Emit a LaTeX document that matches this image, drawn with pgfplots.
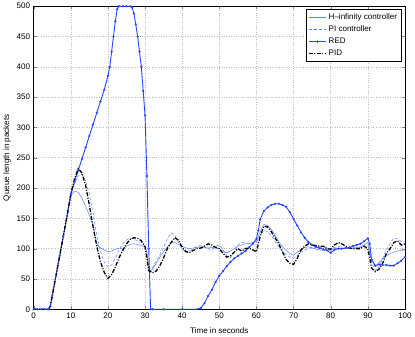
\documentclass[border=0pt]{standalone}
\usepackage{fontspec}
\setmainfont{Liberation Sans}
\usepackage{pgfplots}
\pgfplotsset{compat=1.18}
\definecolor{hblue}{RGB}{95,125,255}
\definecolor{rblue}{RGB}{40,70,255}
\begin{document}
\begin{tikzpicture}
\begin{axis}[
  scale only axis, width=370pt, height=302pt,
  xmin=0, xmax=100, ymin=0, ymax=500,
  xtick={0,10,...,100}, ytick={0,50,...,500},
  tick align=inside, major tick length=3pt,
  xtick pos=both, ytick pos=both,
  grid=major, grid style={gray!50, dotted, line width=0.5pt},
  axis line style={line width=0.5pt},
  tick label style={font=\fontsize{8}{9}\selectfont},
  label style={font=\fontsize{8}{9}\selectfont},
  /pgf/number format/assume math mode=true,
  xlabel={Time in seconds}, ylabel={Queue length in packets},
  xlabel style={yshift=-2pt}, ylabel style={yshift=-1pt},
  legend style={at={(0.99,0.99)}, anchor=north east, font=\fontsize{8}{9}\selectfont,
    draw=black, line width=0.5pt, inner sep=2pt, row sep=1pt},
  legend cell align=left,
]
\addplot[hblue, line width=0.5pt] coordinates {
(0,0) (4,0) (4.5,5) (5,22) (6,55) (7,88) (8,121) (9,154) (10,185) (10.5,192) (11,195) (12,193) (13,183) (14,170) (15,155) (16,138) (17,108) (18,101) (19,98) (20,95) (21,96) (22,99) (23,101) (24,100) (25,104) (26,107) (27,108) (28,107) (29,105) (30,103) (30.5,95) (31,62) (32,66) (33,76) (34,86) (35,95) (36,103) (37,110) (38,110) (39,107) (40,104) (41,101) (42,100) (43,101) (44,102) (45,103) (46,102) (47,101) (48,102) (49,101) (50,100) (51,96) (52,93) (53,96) (54,100) (55,104) (56,106) (57,108) (58,108) (59,110) (60,112) (61,128) (62,140) (63,138) (64,132) (65,122) (66,112) (67,103) (68,97) (69,92) (70,89) (71,94) (72,98) (73,102) (74,103) (75,101) (76,99) (77,98) (78,97) (79,98) (80,97) (81,100) (82,101) (83,100) (84,100) (85,100) (86,101) (87,102) (88,103) (89,106) (90,110) (90.5,100) (91,83) (92,70) (93,77) (94,83) (95,88) (96,92) (97,94) (98,96) (99,97) (100,98)
};
\addlegendentry{H--infinity controller}
\addplot[hblue, line width=0.5pt, dash pattern=on 3pt off 2pt] coordinates {
(0,0) (4,0) (4.5,5) (5,22) (6,55) (7,88) (8,121) (9,154) (10,188) (11,208) (12,220) (12.5,223) (13,222) (14,212) (15,190) (16,158) (17,122) (18,95) (19,78) (20,70) (21,73) (22,84) (23,98) (24,108) (25,114) (26,118) (27,116) (28,112) (29,110) (30,104) (30.5,90) (31,60) (32,68) (33,80) (34,90) (35,102) (36,116) (37,126) (38,122) (39,110) (40,100) (41,93) (42,95) (43,100) (44,104) (45,106) (46,103) (47,100) (48,98) (49,104) (50,106) (51,98) (52,88) (53,85) (54,95) (55,106) (56,110) (57,110) (58,108) (59,110) (60,110) (61,122) (62,130) (63,128) (64,122) (65,112) (66,103) (67,96) (68,90) (69,86) (70,84) (71,88) (72,94) (73,98) (74,100) (75,102) (76,101) (77,102) (78,103) (79,101) (80,99) (81,102) (82,104) (83,102) (84,100) (85,101) (86,100) (87,101) (88,102) (89,104) (90,105) (90.5,95) (91,78) (92,64) (93,70) (94,84) (95,98) (96,108) (97,118) (98,116) (99,112) (100,112)
};
\addlegendentry{PI controller}
\addplot[rblue, line width=0.9pt, mark=*, mark size=0.6pt] coordinates {
(0,0) (1,0) (2,0) (3,0) (4,0) (4.5,5) (5,22) (6,55) (7,88) (8,121) (9,154) (10,190) (11,210) (12,229) (13,248) (14,267) (15,286) (16,305) (17,324) (18,343) (19,362) (20,385) (20.5,400) (21,425) (21.5,450) (22,475) (22.5,495) (23,500) (24,500) (25,500) (26,500) (26.5,498) (27,488) (27.5,470) (28,450) (28.5,425) (29,400) (29.5,360) (30,320) (30.5,220) (31,100) (31.5,0) (32,0) (35,0) (40,0) (44,0) (45,2) (46,10) (47,22) (48,32) (49,45) (50,55) (51,63) (52,71) (53,78) (54,84) (55,88) (56,92) (57,96) (58,102) (59,108) (60,116) (60.5,130) (61,148) (62,162) (63,168) (64,172) (65,174) (66,174) (67,172) (68,169) (69,160) (70,149) (71,138) (72,127) (73,118) (74,111) (75,106) (76,103) (77,101) (78,99) (79,97) (80,93) (81,98) (82,100) (83,100) (84,101) (85,102) (86,104) (87,106) (88,108) (89,112) (90,117) (90.5,108) (91,82) (92,72) (93,74) (94,73) (95,73) (96,72) (97,72) (98,76) (99,80) (100,86)
};
\addlegendentry{RED}
\addplot[black, line width=1.3pt, dash pattern=on 4pt off 1.5pt on 1pt off 1.5pt] coordinates {
(0,0) (4,0) (4.5,5) (5,22) (6,55) (7,88) (8,121) (9,154) (10,190) (11,215) (12,232) (13,225) (14,204) (15,172) (16,136) (17,104) (18,78) (19,61) (20,51) (21,57) (22,70) (23,85) (24,97) (25,108) (26,115) (27,118) (28,117) (29,113) (30,103) (30.5,85) (31,64) (32,60) (33,63) (34,72) (35,85) (36,100) (37,110) (38,118) (39,114) (40,102) (41,95) (42,94) (43,97) (44,100) (45,101) (46,104) (47,108) (48,106) (49,102) (50,100) (51,92) (52,86) (53,88) (54,94) (55,100) (56,96) (57,100) (58,101) (59,98) (60,95) (61,120) (62,137) (63,136) (64,128) (65,118) (66,108) (67,95) (68,82) (69,76) (70,74) (71,84) (72,98) (73,104) (74,108) (75,106) (76,105) (77,104) (78,104) (79,100) (80,99) (81,106) (82,110) (83,108) (84,104) (85,101) (86,100) (87,100) (88,100) (89,104) (90,100) (90.5,85) (91,68) (92,62) (93,66) (94,76) (95,92) (96,100) (97,110) (98,113) (99,106) (100,108)
};
\addlegendentry{PID}
\end{axis}
\end{tikzpicture}
\end{document}
